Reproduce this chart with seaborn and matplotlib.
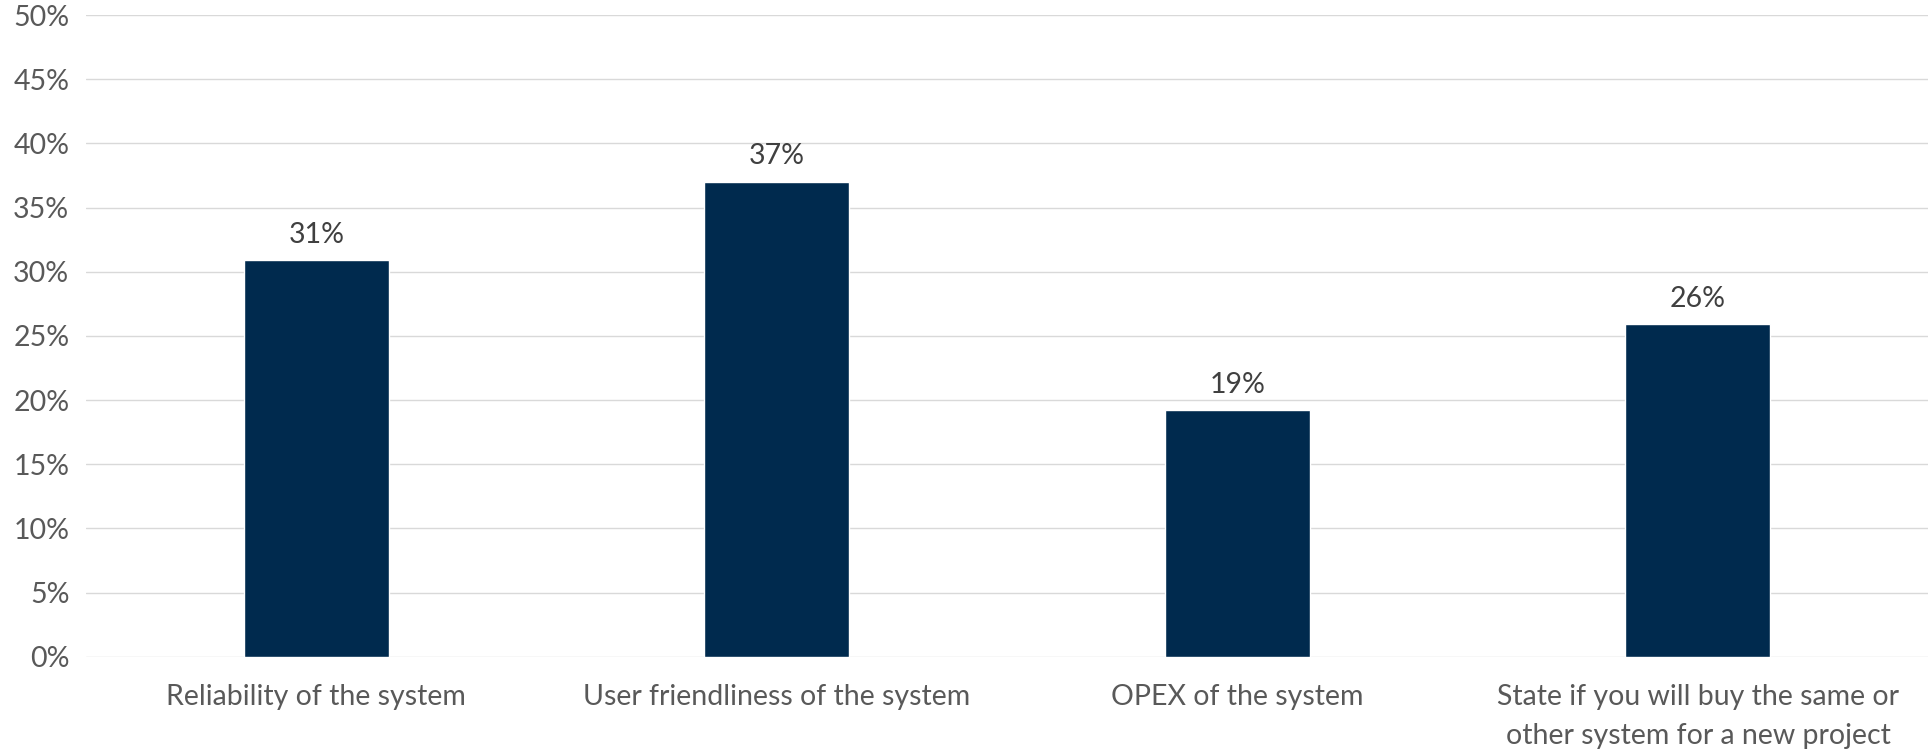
import matplotlib
matplotlib.use("Agg")
import matplotlib.pyplot as plt
import seaborn as sns
import pandas as pd
from matplotlib.ticker import PercentFormatter, MultipleLocator

categories = [
    "Reliability of the system",
    "User friendliness of the system",
    "OPEX of the system",
    "State if you will buy the same or\nother system for a new project",
]
values = [0.309, 0.370, 0.192, 0.259]
labels = ["31%", "37%", "19%", "26%"]

sns.set_theme(style="white")
plt.rcParams['font.family'] = ['Lato', 'DejaVu Sans']

df = pd.DataFrame({"category": categories, "value": values})

fig = plt.figure(figsize=(19.29, 7.51), dpi=100)
ax = fig.add_axes([0.0446, 0.1256, 0.955, 0.8544])

sns.barplot(data=df, x="category", y="value", color="#002A4E", saturation=1,
            width=0.315, ax=ax, zorder=3)

ax.set_ylim(0, 0.5)
ax.yaxis.set_major_locator(MultipleLocator(0.05))
ax.yaxis.set_major_formatter(PercentFormatter(1.0, decimals=0))
ax.grid(axis="y", color="#d9d9d9", linewidth=1.0, zorder=0)
ax.set_axisbelow(True)
for s in ax.spines.values():
    s.set_visible(False)
ax.set_xlabel("")
ax.set_ylabel("")
ax.tick_params(axis="both", length=0, labelsize=20.5, labelcolor="#595959")
ax.tick_params(axis="y", pad=12)
ax.tick_params(axis="x", pad=20)
ax.set_xlim(-0.5, 3.5)
for t in ax.get_xticklabels():
    t.set_linespacing(1.6)

for cont in ax.containers:
    ax.bar_label(cont, labels=labels, padding=9, fontsize=20.5, color="#404040")

fig.savefig("out.png", dpi=100)
